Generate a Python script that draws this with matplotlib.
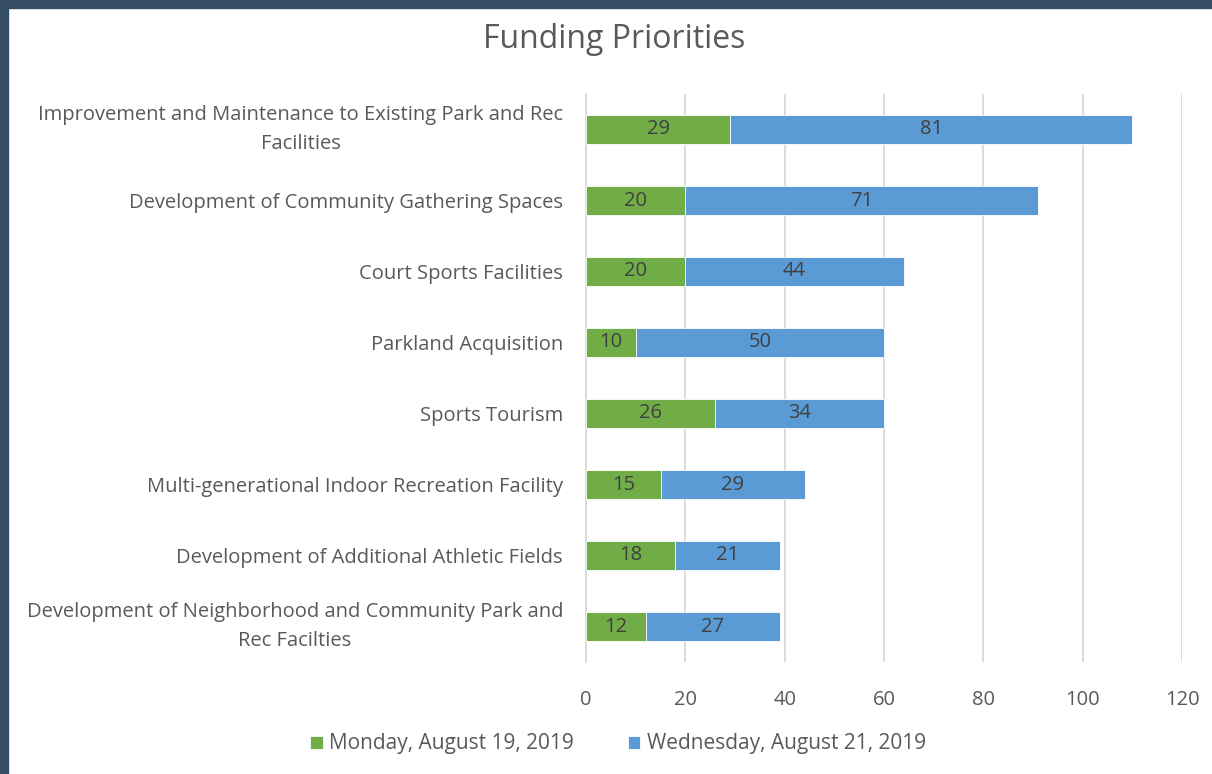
import matplotlib.pyplot as plt
import numpy as np

plt.rcParams['font.family'] = ['Open Sans', 'DejaVu Sans']

categories = [
    'Improvement and Maintenance to Existing Park and Rec\nFacilities',
    'Development of Community Gathering Spaces',
    'Court Sports Facilities',
    'Parkland Acquisition',
    'Sports Tourism',
    'Multi-generational Indoor Recreation Facility',
    'Development of Additional Athletic Fields',
    'Development of Neighborhood and Community Park and\nRec Facilties',
]
monday = [29, 20, 20, 10, 26, 15, 18, 12]
wednesday = [81, 71, 44, 50, 34, 29, 21, 27]
series_names = ['Monday, August 19, 2019', 'Wednesday, August 21, 2019']
xticks = [0, 20, 40, 60, 80, 100, 120]

green = '#70AD47'
blue = '#5B9BD5'
txt = '#595959'
fs = 14.5

fig = plt.figure(figsize=(12.12, 7.74), dpi=100)
fig.patch.set_facecolor('white')

# dark frame at top and left
border = '#344C66'
fig.patches.append(plt.Rectangle((0, 1 - 8 / 774), 1, 8 / 774, transform=fig.transFigure,
                                 color=border, zorder=0))
fig.patches.append(plt.Rectangle((0, 0), 8 / 1212, 1, transform=fig.transFigure,
                                 color=border, zorder=0))

ax = fig.add_axes([586 / 1212, 1 - 662 / 774, 596 / 1212, 568 / 774])
y = np.arange(len(categories))
h = 0.4
b1 = ax.barh(y, monday, height=h, color=green, edgecolor='white', linewidth=0.6, zorder=3)
b2 = ax.barh(y, wednesday, left=monday, height=h, color=blue, edgecolor='white', linewidth=0.6, zorder=3)
ax.bar_label(b1, label_type='center', color='#404040', fontsize=fs)
ax.bar_label(b2, label_type='center', color='#404040', fontsize=fs)

ax.set_ylim(len(categories) - 0.5, -0.5)
ax.set_xlim(0, 120)
ax.set_xticks(xticks)
ax.set_xticklabels([str(t) for t in xticks])
ax.set_yticks(y)
ax.set_yticklabels(categories, ha='right')
ax.tick_params(axis='both', length=0, colors=txt, labelsize=fs)
ax.tick_params(axis='x', pad=20)
ax.tick_params(axis='y', pad=16.5)
for lab in ax.get_yticklabels():
    if '\n' in lab.get_text():
        lab.set_multialignment('center')
        lab.set_linespacing(1.55)
        lab.set_verticalalignment('center')
ax.xaxis.grid(True, color='#D9D9D9', linewidth=1.3, zorder=0)
ax.set_axisbelow(True)
for s in ['top', 'right', 'bottom']:
    ax.spines[s].set_visible(False)
ax.spines['left'].set_color('#D9D9D9')
ax.spines['left'].set_linewidth(1.3)

fig.text(614 / 1212, 1 - 40 / 774, 'Funding Priorities', ha='center', va='center',
         fontsize=23, color=txt)

fig.legend([b1, b2], series_names, loc='center', bbox_to_anchor=(618 / 1212, 1 - 744 / 774),
           ncol=2, frameon=False, fontsize=15, labelcolor=txt, handlelength=0.6,
           handleheight=0.6, handletextpad=0.3, columnspacing=2.6)

fig.savefig('out.png', dpi=100)
